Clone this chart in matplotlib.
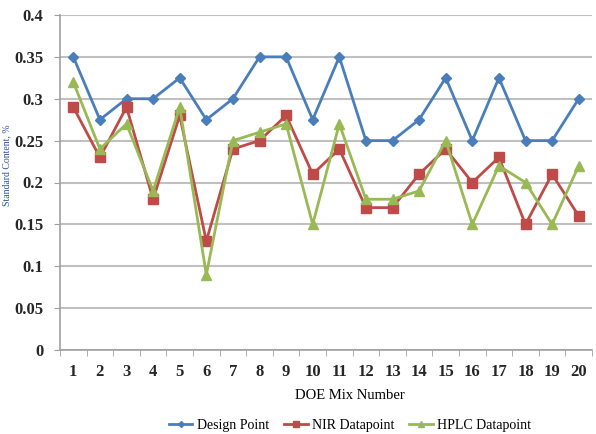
import numpy as np
import matplotlib
matplotlib.use('Agg')
import matplotlib.pyplot as plt

# Data
mix_numbers = list(range(1, 21))
design_point = [0.35, 0.275, 0.30, 0.30, 0.325, 0.275, 0.30, 0.35, 0.35, 0.275,
                0.35, 0.25, 0.25, 0.275, 0.325, 0.25, 0.325, 0.25, 0.25, 0.30]
nir_datapoint = [0.29, 0.23, 0.29, 0.18, 0.28, 0.13, 0.24, 0.25, 0.28, 0.21,
                 0.24, 0.17, 0.17, 0.21, 0.24, 0.20, 0.23, 0.15, 0.21, 0.16]
hplc_datapoint = [0.32, 0.24, 0.27, 0.19, 0.29, 0.09, 0.25, 0.26, 0.27, 0.15,
                  0.27, 0.18, 0.18, 0.19, 0.25, 0.15, 0.22, 0.20, 0.15, 0.22]
y_ticks = [0, 0.05, 0.1, 0.15, 0.2, 0.25, 0.3, 0.35, 0.4]
y_tick_labels = ['0', '0.05', '0.1', '0.15', '0.2', '0.25', '0.3', '0.35', '0.4']

plt.rcParams['font.family'] = ['Liberation Serif', 'DejaVu Serif']

fig = plt.figure(figsize=(5.96, 4.34), dpi=100)
ax = fig.add_axes([60 / 596, 1 - 350 / 434, 532 / 596, 335 / 434])

ax.plot(mix_numbers, design_point, color='#4a7ebb', lw=2, marker='D', ms=5,
        label='Design Point', zorder=3)
ax.plot(mix_numbers, nir_datapoint, color='#be4b48', lw=2, marker='s', ms=6.5,
        label='NIR Datapoint', zorder=4)
ax.plot(mix_numbers, hplc_datapoint, color='#98b954', lw=2, marker='^', ms=6.5,
        label='HPLC Datapoint', zorder=5)

ax.set_xlim(0.5, 20.5)
ax.set_ylim(0, 0.4)
ax.set_yticks(y_ticks)
ax.set_yticklabels(y_tick_labels, fontsize=12, fontweight='bold', color='#262626')
ax.set_xticks(mix_numbers)
ax.set_xticklabels([str(n) for n in mix_numbers], fontsize=12, fontweight='bold',
                   color='#262626')
ax.set_xticks(np.arange(0.5, 21, 1), minor=True)
ax.tick_params(axis='x', which='major', length=0, pad=10)
ax.tick_params(axis='x', which='minor', length=4, color='#a0a0a0', direction='out')
ax.tick_params(axis='y', length=4, color='#a0a0a0', pad=8)

ax.grid(axis='y', color='#c0c0c0', lw=1.5)
ax.set_axisbelow(True)
for side in ['top', 'right']:
    ax.spines[side].set_visible(False)
for side in ['left', 'bottom']:
    ax.spines[side].set_color('#a0a0a0')
    ax.spines[side].set_linewidth(1.2)

ax.set_xlabel('DOE Mix Number', fontsize=10.5, labelpad=4)
ax.xaxis.set_label_coords(0.545, -0.115)
fig.text(0.012, 0.62, 'Standard Content, %', rotation=90, fontsize=7,
         color='#3050a0', ha='center', va='center')

ax.legend(loc='center', bbox_to_anchor=(0.545, -0.224), ncol=3, frameon=False,
          fontsize=10, handlelength=1.7, columnspacing=1.1, handletextpad=0.3,
          markerscale=0.6)

plt.savefig('out.png', dpi=100)
